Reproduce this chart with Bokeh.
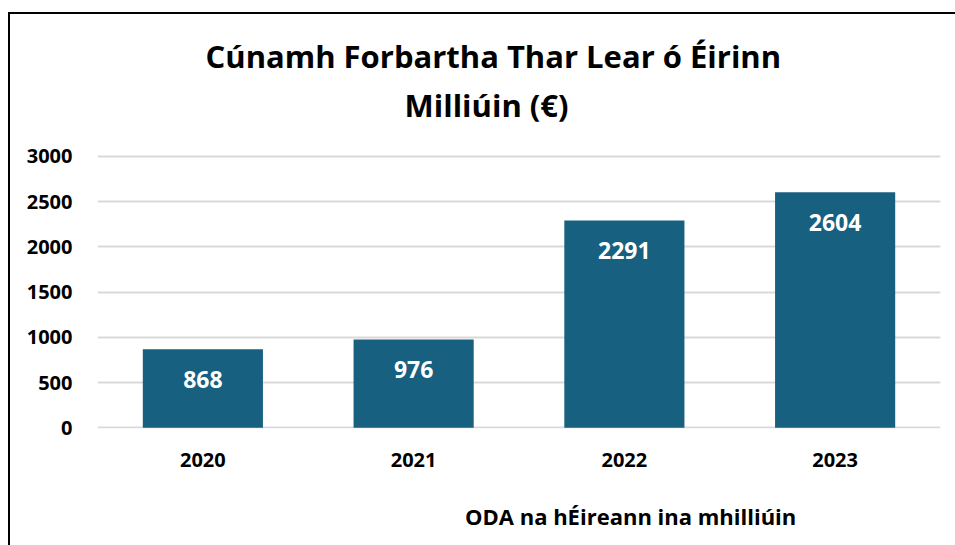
from bokeh.plotting import figure
from bokeh.layouts import column
from bokeh.models import (ColumnDataSource, Range1d, LabelSet, Legend, LegendItem,
                          Title, FixedTicker)
from bokeh.core.properties import value
from bokeh.embed import file_html
from bokeh.resources import INLINE

years = ["2020", "2021", "2022", "2023"]
oda_values = [868, 976, 2291, 2604]
y_ticks = [0, 500, 1000, 1500, 2000, 2500, 3000]
title_line1 = "Cúnamh Forbartha Thar Lear ó Éirinn"
title_line2 = "Milliúin (€)"
series_name = "ODA na hÉireann ina mhilliúin"

FONT = "Open Sans"
BAR = "#17607F"

src = ColumnDataSource(dict(year=years, val=oda_values, lab=[str(v) for v in oda_values]))

p = figure(x_range=years, y_range=Range1d(-8, 3020), frame_width=843, frame_height=274,
           output_backend="svg", toolbar_location=None,
           min_border_left=87, min_border_right=15, min_border_top=140,
           min_border_bottom=50)
p.outline_line_color = None
p.background_fill_color = "white"
p.border_fill_color = "white"

bars = p.vbar(x="year", top="val", width=0.57, source=src, fill_color=BAR,
              line_color=None)

labels = LabelSet(x="year", y="val", text="lab", source=src, text_align="center",
                  text_baseline="middle", y_offset=-30, text_color="white",
                  text_font=value(FONT), text_font_style="bold", text_font_size="23px")
p.add_layout(labels)

p.xgrid.grid_line_color = None
p.ygrid.grid_line_color = "#D9D9D9"
p.ygrid.grid_line_width = 2
p.yaxis.ticker = FixedTicker(ticks=y_ticks)

for ax in (p.xaxis, p.yaxis):
    ax.axis_line_color = None
    ax.major_tick_line_color = None
    ax.minor_tick_line_color = None
    ax.major_label_text_font = FONT
    ax.major_label_text_font_style = "bold"
    ax.major_label_text_font_size = "20px"
    ax.major_label_text_color = "black"
p.yaxis.major_label_standoff = 19
p.xaxis.major_label_standoff = 18

t2 = Title(text=title_line2, align="left", text_font=FONT, text_font_style="bold",
           text_font_size="31px", text_color="black", offset=307, standoff=58)
t1 = Title(text=title_line1, align="left", text_font=FONT, text_font_style="bold",
           text_font_size="31px", text_color="black", offset=108, standoff=-48)
p.add_layout(t2, "above")
p.add_layout(t1, "above")

# legend strip below the chart
lf = figure(width=945, height=67, x_range=Range1d(0, 1), y_range=Range1d(0, 1),
            x_axis_type=None, y_axis_type=None, output_backend="svg",
            toolbar_location=None, min_border=0)
lf.outline_line_color = None
lf.background_fill_color = "white"
lf.border_fill_color = "white"
lf.xgrid.grid_line_color = None
lf.ygrid.grid_line_color = None
key = lf.vbar(x=[], top=[], width=0.5, fill_color=BAR, line_color=None)

legend = Legend(items=[LegendItem(label=series_name, renderers=[key])],
                orientation="horizontal", location=(348, 14),
                label_text_font=FONT, label_text_font_style="bold",
                label_text_font_size="22px", label_text_color="black",
                glyph_width=13, glyph_height=13,
                border_line_color=None, background_fill_alpha=0,
                margin=0, padding=4, label_standoff=7)
lf.add_layout(legend, "center")

layout = column(p, lf, spacing=0,
                styles={"margin-left": "8px", "margin-top": "12px",
                        "border-left": "2px solid #000000",
                        "border-top": "2px solid #000000"})

open("out.html", "w").write(file_html(layout, INLINE))
